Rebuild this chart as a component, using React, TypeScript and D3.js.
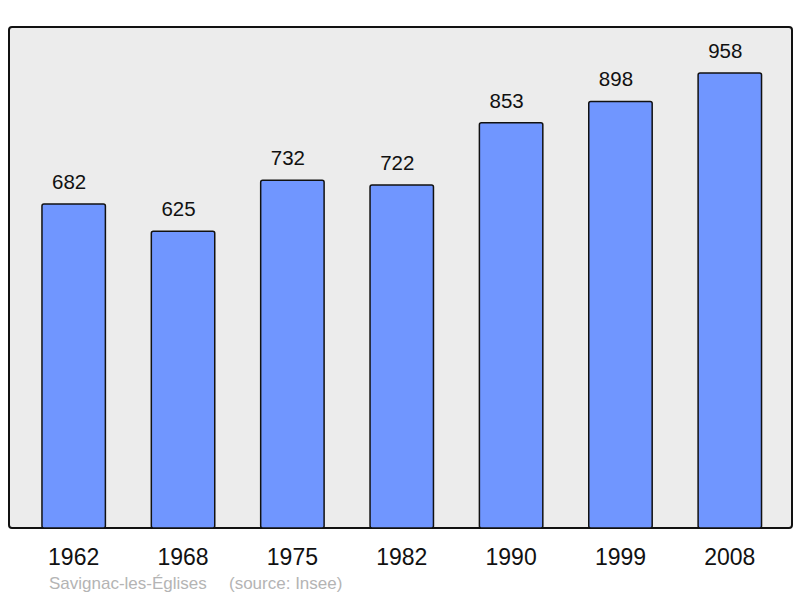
import React from "react";
import * as d3 from "d3";

const years = ["1962", "1968", "1975", "1982", "1990", "1999", "2008"];
const population = [682, 625, 732, 722, 853, 898, 958];
const commune = "Savignac-les-Églises";
const source = "(source: Insee)";

const width = 800;
const height = 598;
const frame = { left: 9, top: 27, right: 792, bottom: 528 };

export default function App() {
  const x = d3
    .scaleBand<string>()
    .domain(years)
    .range([19, 784.5])
    .paddingInner(0.42)
    .paddingOuter(0.21);

  const y = d3.scaleLinear().domain([0, 958]).range([frame.bottom, 73]);

  return (
    <svg
      width={width}
      height={height}
      style={{ position: "absolute", left: 0, top: 0 }}
      fontFamily="'Liberation Sans', Arial, sans-serif"
    >
      <rect
        x={frame.left}
        y={frame.top}
        width={frame.right - frame.left}
        height={frame.bottom - frame.top}
        rx={3}
        fill="#ececec"
        stroke="#111"
        strokeWidth={2}
      />
      {years.map((yr, i) => (
        <g key={yr}>
          <rect
            x={x(yr)}
            y={y(population[i])}
            width={x.bandwidth()}
            height={frame.bottom - y(population[i])}
            rx={2}
            fill="#7096ff"
            stroke="#111"
            strokeWidth={1.5}
          />
          <text
            x={(x(yr) ?? 0) + x.bandwidth() / 2 - 4.5}
            y={y(population[i]) - 15}
            textAnchor="middle"
            fontSize={20.5}
            fill="#111"
          >
            {population[i]}
          </text>
          <text
            x={(x(yr) ?? 0) + x.bandwidth() / 2}
            y={565}
            textAnchor="middle"
            fontSize={23}
            fill="#111"
          >
            {yr}
          </text>
        </g>
      ))}
      <text x={49} y={589} fontSize={17} fill="#b4b4b4">
        {commune}
      </text>
      <text x={229} y={589} fontSize={17} fill="#b4b4b4">
        {source}
      </text>
    </svg>
  );
}
